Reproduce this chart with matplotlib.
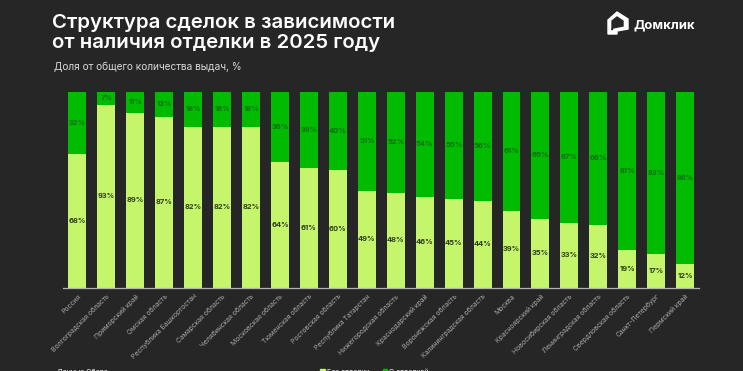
import matplotlib
matplotlib.use('Agg')
import matplotlib.pyplot as plt
from matplotlib.patches import Polygon, Rectangle

regions = ['Россия', 'Волгоградская область', 'Приморский край', 'Омская область',
           'Республика Башкортостан', 'Самарская область', 'Челябинская область',
           'Московская область', 'Тюменская область', 'Ростовская область',
           'Республика Татарстан', 'Нижегородская область', 'Краснодарский край',
           'Воронежская область', 'Калининградская область', 'Москва',
           'Красноярский край', 'Новосибирская область', 'Ленинградская область',
           'Свердловская область', 'Санкт-Петербург', 'Пермский край']
no_finish = [68, 93, 89, 87, 82, 82, 82, 64, 61, 60, 49, 48, 46, 45, 44, 39, 35, 33, 32, 19, 17, 12]
with_finish = [32, 7, 11, 13, 18, 18, 18, 36, 39, 40, 51, 52, 54, 55, 56, 61, 65, 67, 68, 81, 83, 88]

BG = '#262626'
LIGHT = '#c4f56a'
GREEN = '#00bb00'
plt.rcParams['font.family'] = ['Inter', 'DejaVu Sans']

W, H = 743, 371
fig = plt.figure(figsize=(W / 100, H / 100), dpi=100, facecolor=BG)
ax = fig.add_axes([63 / W, 1 - 287.5 / H, (699 - 63) / W, (287.5 - 91.5) / H], facecolor=BG)

x = list(range(len(regions)))
ax.bar(x, no_finish, width=0.62, color=LIGHT)
ax.bar(x, with_finish, width=0.62, bottom=no_finish, color=GREEN)

for i in x:
    ax.text(i, no_finish[i] / 2, f'{no_finish[i]}%', ha='center', va='center',
            fontsize=5.4, fontweight='bold', color='#2e3a20')
    ax.text(i, no_finish[i] + with_finish[i] / 2, f'{with_finish[i]}%', ha='center', va='center',
            fontsize=5.4, fontweight='bold', color='#0f6e14')

ax.set_xlim(-0.5, 21.48)
ax.set_ylim(0, 100)
ax.set_yticks([])
ax.set_xticks(x)
ax.set_xticklabels(regions, rotation=45, ha='right', rotation_mode='anchor',
                   fontsize=4.9, color='#a8a8a8')
ax.tick_params(axis='x', length=0, pad=4)
for s in ['top', 'left', 'right']:
    ax.spines[s].set_visible(False)
ax.spines['bottom'].set_color('#b5b5b5')
ax.spines['bottom'].set_linewidth(0.9)

fig.text(52 / W, 1 - 28 / H, 'Структура сделок в зависимости', fontsize=14.7, fontweight='semibold',
         color='white', va='baseline')
fig.text(52 / W, 1 - 48 / H, 'от наличия отделки в 2025 году', fontsize=14.7, fontweight='semibold',
         color='white', va='baseline')
fig.text(54 / W, 1 - 70 / H, 'Доля от общего количества выдач, %', fontsize=7.3, color='#d8d8d8',
         va='baseline')
fig.text(633 / W, 1 - 28 / H, 'Домклик', fontsize=9.4, fontweight='bold', color='white', va='baseline')

# логотип
logo = [(608, 20), (617, 12), (628, 19), (628, 29), (617, 31), (617, 34), (608, 34)]
fig.add_artist(Polygon([(a / W, 1 - b / H) for a, b in logo], closed=True, color='white',
                       transform=fig.transFigure))
hole = [(612, 21), (617, 17), (623, 21), (623, 26), (613, 28), (612, 30)]
fig.add_artist(Polygon([(a / W, 1 - b / H) for a, b in hole], closed=True, color=BG,
                       transform=fig.transFigure))

# подписи внизу обрезаны краем картинки
fig.text(57 / W, 1 - 374 / H, 'Данные Сбера', fontsize=5.1, color='white', va='baseline')
fig.add_artist(Rectangle((320 / W, 0), 5 / W, 2 / H, color=LIGHT, transform=fig.transFigure))
fig.text(327 / W, 1 - 374 / H, 'Без отделки', fontsize=5.1, color='white', va='baseline')
fig.add_artist(Rectangle((383 / W, 0), 4 / W, 2 / H, color=GREEN, transform=fig.transFigure))
fig.text(389 / W, 1 - 374 / H, 'С отделкой', fontsize=5.1, color='white', va='baseline')

fig.savefig('out.png', dpi=100, facecolor=BG)
